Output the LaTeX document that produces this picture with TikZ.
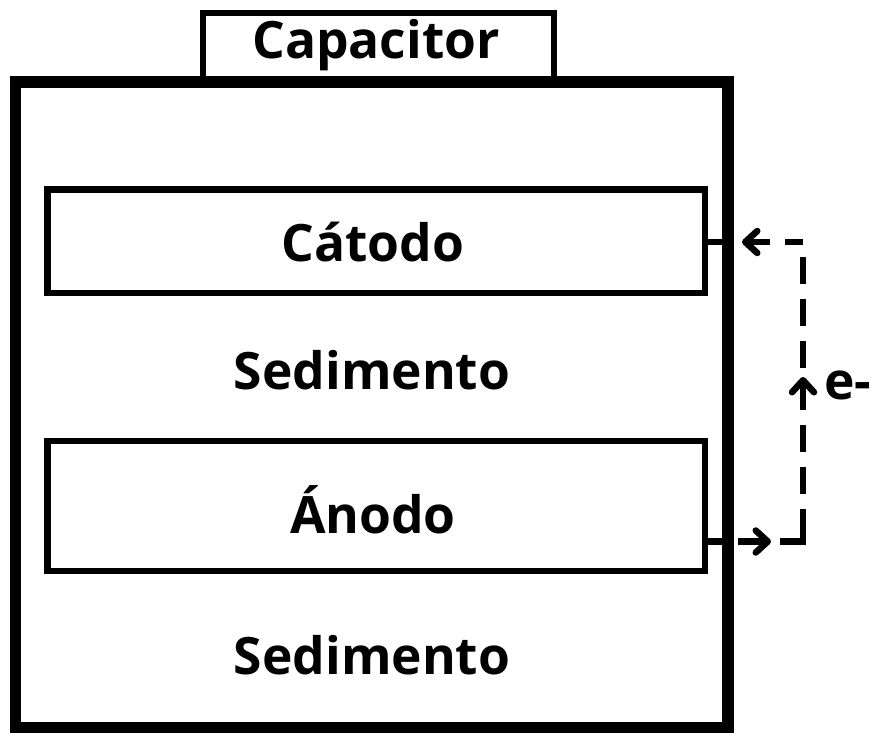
\documentclass[tikz,border=0pt]{standalone}
\usepackage{fontspec}
\setmainfont{Open Sans}
\usetikzlibrary{arrows.meta}
\begin{document}
\begin{tikzpicture}[x=1pt,y=-1pt,
  lbl/.style={font=\bfseries\fontsize{51.5}{60}\selectfont, inner sep=0pt},
  thinbox/.style={draw=black, line width=6.5pt, fill=white},
  tip/.style={-{Straight Barb[length=12pt,width=22pt,line cap=round,line join=round]}, line width=6.5pt},
  dashcon/.style={draw=black, line width=6.5pt, dash pattern=on 27pt off 15pt}]
\useasboundingbox (0,0) rectangle (875,733);
% capacitor label box
\draw[thinbox] (203,13) rectangle (554,82);
\node[lbl] (cap) at (376,45) {Capacitor};
% outer box
\draw[line width=11.5pt, fill=white] (15.5,82) rectangle (728,727.5);
% cathode
\draw[thinbox] (47.5,189.5) rectangle (705,293);
\node[lbl] (cat) at (373,242) {Cátodo};
\node[lbl] (sed1) at (372,370) {Sedimento};
% anode
\draw[thinbox] (47.5,441) rectangle (705,571);
\node[lbl] (ano) at (373,510) {Ánodo};
\node[lbl] (sed2) at (372,655) {Sedimento};
% ports
\coordinate (cport) at (705,242);
\coordinate (aport) at (705,541.5);
\draw[line width=6.5pt] (cport) -- (728,242);
\draw[line width=6.5pt] (aport) -- (728,541.5);
% dashed electron path
\coordinate (astart) at (738,541.5);
\coordinate (cend) at (742,242);
\coordinate (corner) at (803,541.5);
\coordinate (topcorner) at (803,242);
\draw[line width=6.5pt, miter limit=10] (780,541.5) -- (corner) -- (803,512);
\draw[dashcon, dash phase=27pt] (topcorner) -- (803,512);
\draw[line width=6.5pt] (topcorner) -- (785,242);
\draw[tip] (astart) -- (771,541.5);
\draw[tip] (770,242) -- (cend);
\draw[tip] (803,408) -- (803,377);
\node[lbl] (elec) at (848,385) {e-};
\end{tikzpicture}
\end{document}
